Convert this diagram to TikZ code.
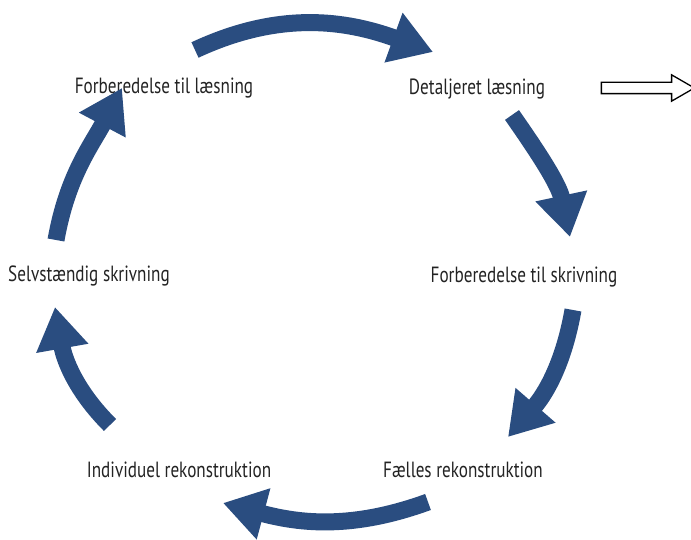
\documentclass[tikz,border=0pt]{standalone}
\usepackage{fontspec}
\newfontfamily\stepfont[FakeStretch=0.78]{PT Sans}
\usepackage{tikz}
\usetikzlibrary{arrows.meta, shapes.arrows, positioning}
\definecolor{cyclusblue}{RGB}{42,77,128}
\definecolor{labelgray}{RGB}{35,35,35}

\begin{document}
\begin{tikzpicture}[x=1pt, y=1pt,
    every node/.style={font=\stepfont\fontsize{22}{24}\selectfont, text=labelgray, anchor=base, inner sep=0pt},
    cycle/.style={draw=cyclusblue, line width=17pt, -{Triangle[length=42pt, width=50pt]}}]
  \useasboundingbox (0,0) rectangle (691,540);

  % Faser i cirklen
  \node (prepread)  at (164,446) {Forberedelse til læsning};
  \node (detail)    at (477,445) {Detaljeret læsning};
  \node (prepwrite) at (524,257) {Forberedelse til skrivning};
  \node (joint)     at (463,62)  {Fælles rekonstruktion};
  \node (indiv)     at (179,62)  {Individuel rekonstruktion};
  \node (selfwrite) at (89,258)  {Selvstændig skrivning};

  % Pil videre
  \node[single arrow, draw=black, line width=1.3pt, fill=white, anchor=center,
        minimum height=93pt, inner xsep=0pt, inner ysep=5pt,
        single arrow head extend=7.5pt, single arrow tip angle=60] (next) at (643,452) {};

  % Endepunkter for pilene
  \coordinate (a1) at (195,490); \coordinate (b1) at (433,488);
  \coordinate (a2) at (512,425); \coordinate (b2) at (570,303);
  \coordinate (a3) at (573,230); \coordinate (b3) at (508,103);
  \coordinate (a4) at (428,38);  \coordinate (b4) at (223,37);
  \coordinate (a5) at (110,115); \coordinate (b5) at (55,233);
  \coordinate (a6) at (56,300);  \coordinate (b6) at (122,452);

  % Pile
  \draw[cycle] (a1) to[out=25, in=160] (b1);
  \draw[cycle] (a2) to[out=-55, in=102] (b2);
  \draw[cycle] (a3) to[out=-100, in=49] (b3);
  \draw[cycle] (a4) to[out=200, in=-15] (b4);
  \draw[cycle] (a5) to[out=135, in=-80] (b5);
  \draw[cycle] (a6) to[out=80, in=-118] (b6);

\end{tikzpicture}
\end{document}
